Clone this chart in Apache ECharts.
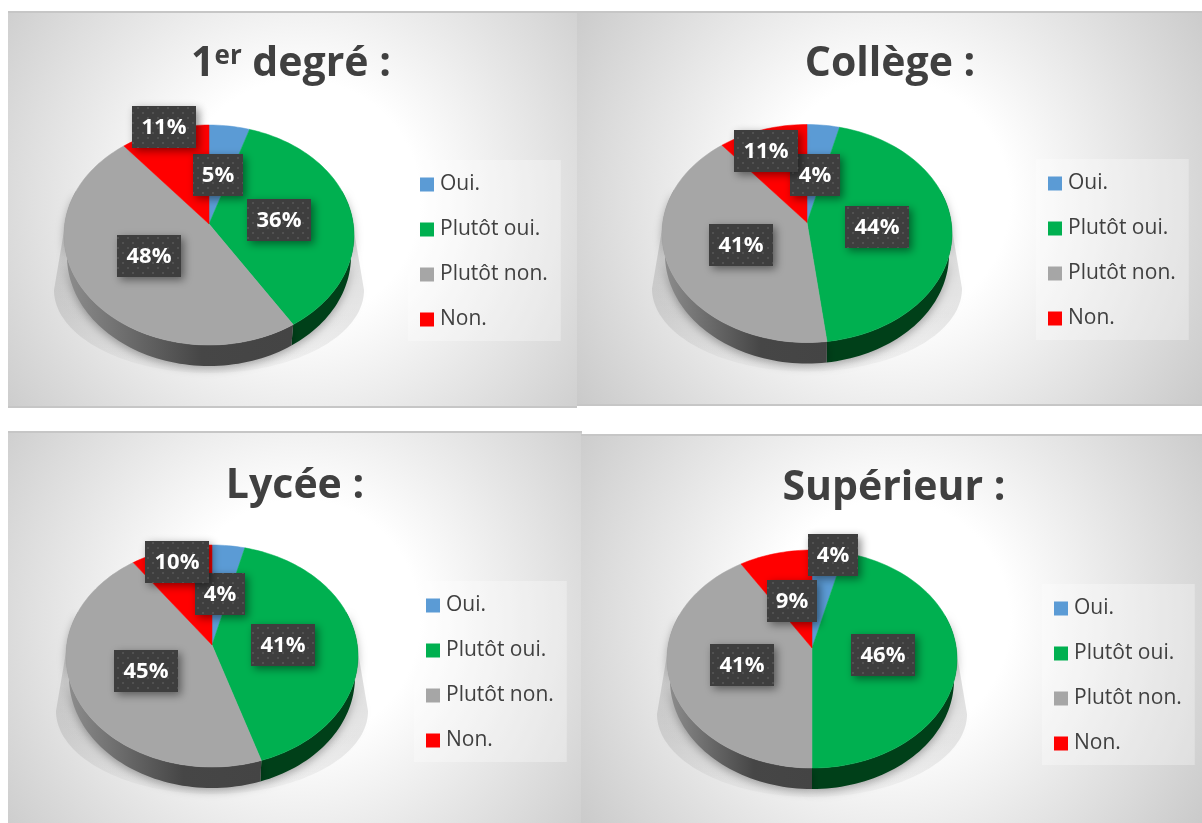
<!DOCTYPE html>
<html lang="fr">

<head>
    <title>Enquête par niveau</title>
    <meta charset="utf-8">
    <style>
        html, body {
            margin: 0;
            background-color: white;
        }
    </style>
</head>

<body>
    <div id="chart" style="width: 1202px; height: 823px"></div>
    <script src="https://cdn.jsdelivr.net/npm/echarts@6/dist/echarts.min.js"></script>
    <script>
        // data
        var categories = ["Oui.", "Plutôt oui.", "Plutôt non.", "Non."];
        var degre1 = [5, 36, 48, 11];
        var college = [4, 44, 41, 11];
        var lycee = [4, 41, 45, 10];
        var superieur = [4, 46, 41, 9];

        // look
        var faceColors = ["#5b9bd5", "#00b050", "#a6a6a6", "#ff0000"];
        var wallColors = ["#2f5f8c", "#004019", "#555555", "#8c0000"];
        var textColor = "#404040";
        var font = '"Open Sans"';

        // layout of each panel: rect is the background, c the centre of the pie top,
        // nudges shift the value boxes away from their default place in the slice
        var panels = [
            {
                values: degre1, title: "{a|1}{b|er}{a| degré :}", titleX: 286, titleY: 39,
                rect: [8, 12, 569, 395], glow: [300, 200], c: [209, 235], rx: 145, ry: 110, legend: [408, 160],
                nudges: [[-5, 5], [-16, -7], [10, -18], [-16, -46]]
            },
            {
                values: college, title: "{a|Collège :}", titleX: 885, titleY: 39,
                rect: [577, 12, 625, 393], glow: [890, 200], c: [807, 233.5], rx: 145, ry: 109, legend: [1036, 159],
                nudges: [[-3, 6], [-17, -11], [14, -14], [-12, -21]]
            },
            {
                values: lycee, title: "{a|Lycée :}", titleX: 290, titleY: 461,
                rect: [8, 432, 574, 393], glow: [300, 620], c: [212, 656], rx: 146, ry: 111, legend: [414, 581],
                nudges: [[-3, 4], [-17, -9], [12, -15], [-8, -31]]
            },
            {
                values: superieur, title: "{a|Supérieur :}", titleX: 889, titleY: 463,
                rect: [581, 435, 621, 390], glow: [890, 620], c: [812, 659], rx: 145, ry: 109, legend: [1042, 584],
                nudges: [[10, -39], [-15, -12], [14, -12], [4, 5]]
            }
        ];

        var wallHeight = 21;
        var apexLift = 11;

        // little dotted tile used for the value boxes
        function dotTile() {
            var tile = document.createElement("canvas");
            tile.width = 10;
            tile.height = 10;
            var ctx = tile.getContext("2d");
            ctx.fillStyle = "#3e3e3e";
            ctx.fillRect(0, 0, 10, 10);
            ctx.fillStyle = "#515151";
            ctx.fillRect(2, 2, 2, 2);
            ctx.fillRect(7, 7, 2, 2);
            return tile;
        }
        var tile = dotTile();

        // point on an ellipse, angle in percent of the pie, clockwise from the top
        function onEllipse(cx, cy, rx, ry, pct) {
            var a = pct * Math.PI / 50;
            return [cx + rx * Math.sin(a), cy - ry * Math.cos(a)];
        }

        function arc(cx, cy, rx, ry, from, to) {
            var pts = [];
            for (var t = from; t < to; t += 0.5) {
                pts.push(onEllipse(cx, cy, rx, ry, t));
            }
            pts.push(onEllipse(cx, cy, rx, ry, to));
            return pts;
        }

        // where the slice edge leaving the apex meets the rim of the tilted pie
        function rimPoint(p, pct) {
            var a = pct * Math.PI / 50;
            var k = -apexLift / p.ry;
            var c = Math.cos(a);
            var t = k * c + Math.sqrt(k * k * c * c - k * k + 1);
            return [
                p.c[0] + p.rx * Math.sin(a) * t,
                p.c[1] - apexLift - p.ry * c * t
            ];
        }

        function rim(p, from, to) {
            var pts = [];
            for (var t = from; t < to; t += 0.5) {
                pts.push(rimPoint(p, t));
            }
            pts.push(rimPoint(p, to));
            return pts;
        }

        function shadowShape(p) {
            var cx = p.c[0], cy = p.c[1];
            var pts = [[cx - p.rx, cy - 4], [cx + p.rx, cy - 4]];
            return pts.concat(arc(cx, cy + 55, p.rx + 10, 83, 25, 75));
        }

        function makeRender(p, i) {
            return function (params, api) {
                var from = api.value(0);
                var to = api.value(1);
                var value = api.value(2);
                var cx = p.c[0], cy = p.c[1];
                var apex = [cx, cy - apexLift];
                var children = [];

                if (i === 0) {
                    children.push({
                        type: "polygon",
                        z2: 1,
                        shape: { points: shadowShape(p) },
                        style: {
                            fill: new echarts.graphic.LinearGradient(0, 0, 0, 1, [
                                { offset: 0, color: "rgba(0,0,0,0.14)" },
                                { offset: 0.6, color: "rgba(0,0,0,0.09)" },
                                { offset: 1, color: "rgba(0,0,0,0.02)" }
                            ]),
                            shadowBlur: 10,
                            shadowColor: "rgba(0,0,0,0.08)"
                        }
                    });
                }

                // side wall: only the front half of the pie shows one
                var wallFrom = Math.max(from, 20);
                var wallTo = Math.min(to, 80);
                if (wallTo > wallFrom) {
                    var top = rim(p, wallFrom, wallTo);
                    var bottom = top.map(function (pt) {
                        return [cx + (pt[0] - cx) * (p.rx - 3) / p.rx, pt[1] + wallHeight];
                    });
                    var wall = top.concat(bottom.reverse());
                    var fill = wallColors[i];
                    if (i === 2) {
                        fill = new echarts.graphic.LinearGradient(0, 0, 1, 0, [
                            { offset: 0, color: "#8e8e8e" },
                            { offset: 0.35, color: "#636363" },
                            { offset: 0.6, color: "#464646" },
                            { offset: 1, color: "#444444" }
                        ]);
                    }
                    children.push({
                        type: "polygon",
                        z2: 2,
                        shape: { points: wall },
                        style: { fill: fill, shadowBlur: 9, shadowOffsetY: 3, shadowColor: "rgba(0,0,0,0.3)" }
                    });
                }

                children.push({
                    type: "polygon",
                    z2: 3,
                    shape: { points: [apex].concat(rim(p, from, to)) },
                    style: { fill: faceColors[i], stroke: faceColors[i], lineWidth: 0.5 }
                });

                // value box
                var mid = onEllipse(cx, cy, p.rx * 0.6, p.ry * 0.6, (from + to) / 2);
                var bx = Math.round(mid[0] + p.nudges[i][0]);
                var by = Math.round(mid[1] + p.nudges[i][1]);
                var bw = value < 10 ? 50 : 64;
                children.push({
                    type: "rect",
                    z2: 10,
                    shape: { x: bx - bw / 2, y: by - 21, width: bw, height: 42 },
                    style: {
                        fill: { image: tile, repeat: "repeat" },
                        shadowBlur: 8, shadowOffsetX: 3, shadowOffsetY: 3, shadowColor: "rgba(0,0,0,0.45)"
                    }
                });
                children.push({
                    type: "text",
                    z2: 11,
                    style: {
                        text: value + "%",
                        x: bx,
                        y: by + 1,
                        align: "center",
                        verticalAlign: "middle",
                        fill: "#ffffff",
                        font: "bold 22px " + font
                    }
                });
                return { type: "group", children: children };
            };
        }

        var series = [];
        var legends = [];
        var titles = [];
        var backgrounds = [];

        panels.forEach(function (p) {
            var sum = 0;
            p.values.forEach(function (v, i) {
                series.push({
                    type: "custom",
                    name: categories[i],
                    coordinateSystem: "none",
                    itemStyle: { color: faceColors[i] },
                    silent: true,
                    data: [[sum, sum + v, v]],
                    renderItem: makeRender(p, i)
                });
                sum += v;
            });
            legends.push({
                data: categories,
                orient: "vertical",
                left: p.legend[0],
                top: p.legend[1],
                padding: [14, 13, 11, 12],
                itemGap: 24,
                itemWidth: 14,
                itemHeight: 14,
                icon: "rect",
                selectedMode: false,
                backgroundColor: "rgba(255,255,255,0.3)",
                textStyle: { color: textColor, fontFamily: font, fontSize: 21, padding: [0, 0, 0, 1] }
            });
            titles.push({
                text: p.title,
                left: p.titleX,
                top: p.titleY,
                textAlign: "center",
                textStyle: {
                    rich: {
                        a: { fontFamily: font, fontWeight: "bold", fontSize: 41, color: textColor },
                        b: { fontFamily: font, fontWeight: "bold", fontSize: 26, color: textColor, verticalAlign: "top" }
                    }
                }
            });
            var x = p.rect[0], y = p.rect[1], w = p.rect[2], h = p.rect[3];
            backgrounds.push({
                type: "rect",
                shape: { x: x, y: y, width: w, height: h },
                style: {
                    fill: {
                        type: "radial", global: true, x: p.glow[0], y: p.glow[1], r: 400,
                        colorStops: [
                            { offset: 0, color: "#ffffff" },
                            { offset: 0.3, color: "#ffffff" },
                            { offset: 1, color: "#c4c4c4" }
                        ]
                    }
                }
            });
            [y, y + h].forEach(function (ly) {
                backgrounds.push({
                    type: "line",
                    shape: { x1: x, y1: ly, x2: x + w, y2: ly },
                    style: { stroke: "#c6c6c6", lineWidth: 2 }
                });
            });
        });

        var chart = echarts.init(document.getElementById("chart"), null, { renderer: "canvas" });
        chart.setOption({
            animation: false,
            title: titles,
            legend: legends,
            graphic: backgrounds,
            series: series
        });
    </script>
</body>

</html>
